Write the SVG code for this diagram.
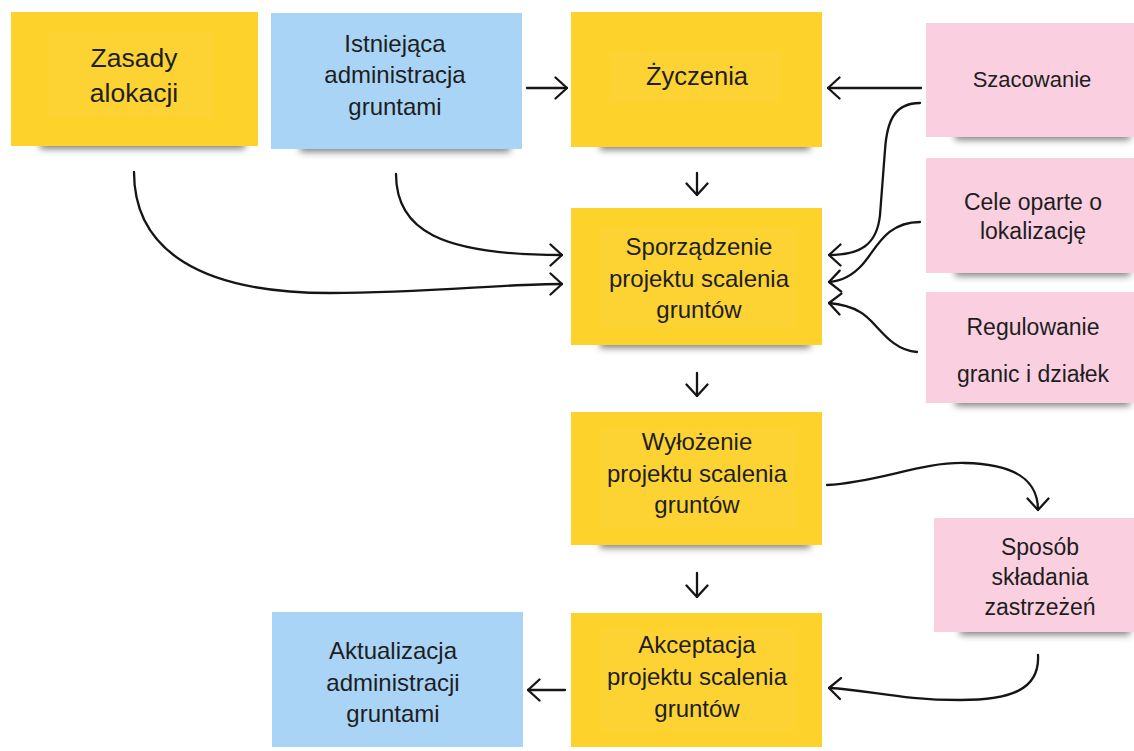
<svg xmlns="http://www.w3.org/2000/svg" width="1134" height="751" viewBox="0 0 1134 751">
<defs>
<filter id="sh" x="-20%" y="-100%" width="140%" height="300%"><feGaussianBlur stdDeviation="3.5"/></filter>
<marker id="ah" viewBox="0 0 14 24" refX="13" refY="12" markerWidth="14" markerHeight="24" markerUnits="userSpaceOnUse" orient="auto"><path d="M1.5,1.5 L13,12 L1.5,22.5" fill="none" stroke="#151515" stroke-width="2.3" stroke-linecap="round" stroke-linejoin="round"/></marker>
</defs>
<style>
.y{fill:#fdd22b}
.b{fill:#a9d4f6}
.p{fill:#fad0e1}
.s{fill:#2e2e2e;opacity:.6;filter:url(#sh)}
.in{fill:#fff;opacity:.045}
text{font-family:"Liberation Sans",Arial,sans-serif;fill:#1e1e1e;text-anchor:middle}
.t24{font-size:24px}
.t23{font-size:23px}
.t22{font-size:22px}
.c{fill:none;stroke:#151515;stroke-width:2.3;stroke-linecap:round;marker-end:url(#ah)}
</style>
<rect width="1134" height="751" fill="#ffffff"/>

<g id="zasady">
<rect class="s" x="40" y="137" width="205" height="12"/>
<rect class="y" x="11" y="12" width="247" height="134"/>
<rect class="in" x="48" y="32" width="165" height="85"/>
<text x="134" y="67" style="font-size:26.5px">Zasady</text>
<text x="134" y="102" style="font-size:26.5px">alokacji</text>
</g>

<g id="istniejaca">
<rect class="s" x="300" y="140" width="210" height="12"/>
<rect class="b" x="271" y="13" width="251" height="136"/>
<text class="t24" x="395" y="52">Istniejąca</text>
<text class="t24" x="395" y="83">administracja</text>
<text class="t24" x="395" y="115">gruntami</text>
</g>

<g id="zyczenia">
<rect class="s" x="600" y="138" width="210" height="12"/>
<rect class="y" x="571" y="12" width="251" height="135"/>
<rect class="in" x="610" y="52" width="170" height="50"/>
<text x="697" y="85" style="font-size:25.5px">Życzenia</text>
</g>

<g id="szacowanie">
<rect class="s" x="955" y="128" width="175" height="12"/>
<rect class="p" x="926" y="23" width="208" height="114"/>
<text class="t22" x="1032" y="87">Szacowanie</text>
</g>

<g id="cele">
<rect class="s" x="955" y="264" width="175" height="12"/>
<rect class="p" x="926" y="158" width="208" height="115"/>
<text class="t23" x="1033" y="210">Cele oparte o</text>
<text class="t23" x="1033" y="239">lokalizację</text>
</g>

<g id="regulowanie">
<rect class="s" x="955" y="394" width="175" height="12"/>
<rect class="p" x="926" y="292" width="208" height="111"/>
<text class="t23" x="1033" y="335">Regulowanie</text>
<text class="t23" x="1033" y="382">granic i działek</text>
</g>

<g id="sporzadzenie">
<rect class="s" x="600" y="336" width="210" height="12"/>
<rect class="y" x="571" y="208" width="251" height="137"/>
<rect class="in" x="600" y="228" width="195" height="100"/>
<text class="t24" x="699" y="255">Sporządzenie</text>
<text class="t24" x="699" y="287">projektu scalenia</text>
<text class="t24" x="699" y="318">gruntów</text>
</g>

<g id="wylozenie">
<rect class="s" x="600" y="536" width="210" height="12"/>
<rect class="y" x="571" y="412" width="251" height="133"/>
<rect class="in" x="600" y="430" width="195" height="98"/>
<text class="t24" x="697" y="450">Wyłożenie</text>
<text class="t24" x="697" y="482">projektu scalenia</text>
<text class="t24" x="697" y="513">gruntów</text>
</g>

<g id="sposob">
<rect class="s" x="960" y="623" width="170" height="12"/>
<rect class="p" x="934" y="518" width="200" height="114"/>
<text class="t23" x="1040" y="555">Sposób</text>
<text class="t23" x="1040" y="585">składania</text>
<text class="t23" x="1040" y="615">zastrzeżeń</text>
</g>

<g id="akceptacja">
<rect class="y" x="571" y="613" width="251" height="134"/>
<rect class="in" x="600" y="630" width="195" height="100"/>
<text class="t24" x="697" y="653">Akceptacja</text>
<text class="t24" x="697" y="685">projektu scalenia</text>
<text class="t24" x="697" y="717">gruntów</text>
</g>

<g id="aktualizacja">
<rect class="b" x="272" y="612" width="251" height="135"/>
<text class="t24" x="393" y="659">Aktualizacja</text>
<text class="t24" x="393" y="691">administracji</text>
<text class="t24" x="393" y="722">gruntami</text>
</g>

<g id="connectors">
<path class="c" d="M527,88 L567,88"/>
<path class="c" d="M921,88 L828,88"/>
<path class="c" d="M697,173 L697,195"/>
<path class="c" d="M134,172 C134,250 200,293 330,293 C430,293 500,284 562,284"/>
<path class="c" d="M396,174 C396,230 440,255 562,255"/>
<path class="c" d="M920,103 C895,103 887,120 885,150 L880,215 C877,245 860,255 829,255"/>
<path class="c" d="M920,222 C885,222 876,250 862,265 C852,276 842,281 829,282"/>
<path class="c" d="M917,352 C888,350 876,320 860,312 C850,306 840,304 829,303"/>
<path class="c" d="M697,373 L697,396"/>
<path class="c" d="M827,485 C880,482 920,462 965,463 C1012,464 1038,478 1038,510"/>
<path class="c" d="M697,573 L697,597"/>
<path class="c" d="M1038,655 C1040,690 1010,700 960,700 C900,700 870,690 829,688"/>
<path class="c" d="M565,690 L528,690"/>
</g>
</svg>
